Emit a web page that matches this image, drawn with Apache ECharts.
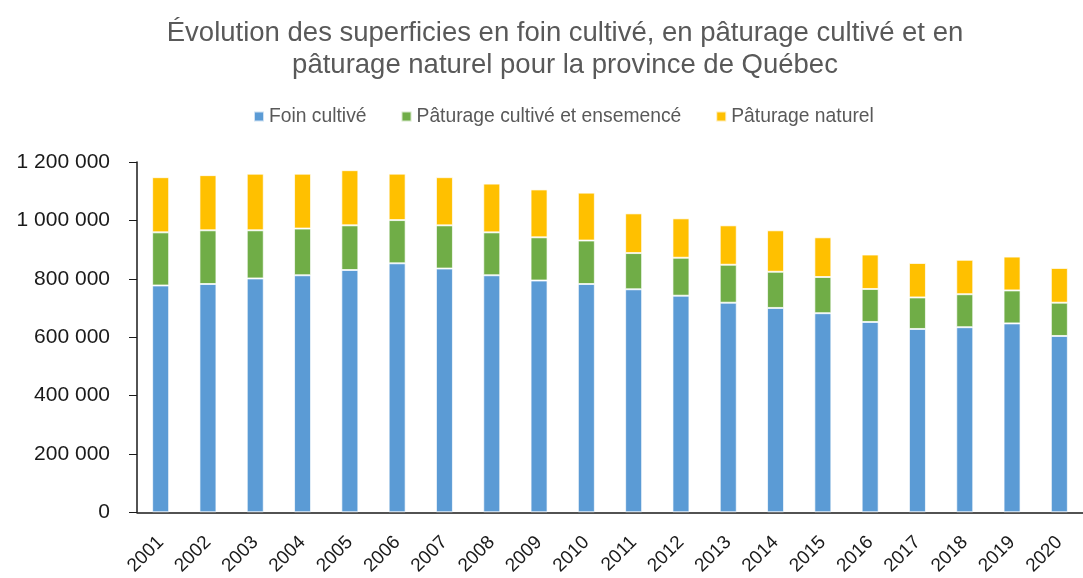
<!DOCTYPE html>
<html>
<head>
<meta charset="utf-8">
<script src="https://cdn.jsdelivr.net/npm/echarts@6/dist/echarts.min.js"></script>
<style>
html, body { margin: 0; padding: 0; background: #fff; }
#chart { width: 1083px; height: 578px; }
</style>
</head>
<body>
<div id="chart"></div>
<script>
// data (hectares)
var years = ['2001', '2002', '2003', '2004', '2005', '2006', '2007', '2008', '2009', '2010',
  '2011', '2012', '2013', '2014', '2015', '2016', '2017', '2018', '2019', '2020']
var foinCultive = [777000, 782000, 801000, 812000, 830000, 853000, 835000, 812000, 794000, 782000,
  764000, 742000, 718000, 700000, 682000, 652000, 628000, 634000, 647000, 604000]
var paturageCultive = [182000, 184000, 165000, 160000, 153000, 148000, 148000, 147000, 148000, 149000,
  124000, 130000, 130000, 124000, 124000, 113000, 108000, 113000, 113000, 114000]
var paturageNaturel = [189000, 189000, 194000, 188000, 189000, 159000, 165000, 167000, 164000, 164000,
  136000, 135000, 135000, 142000, 136000, 118000, 118000, 118000, 116000, 119000]
var seriesNames = ['Foin cultivé', 'Pâturage cultivé et ensemencé', 'Pâturage naturel']
var colors = ['#5B9BD5', '#70AD47', '#FFC000']

var font = 'Liberation Sans, Arial, sans-serif'

function spaced(v) {
  return String(v).replace(/\B(?=(\d{3})+(?!\d))/g, ' ')
}

function makeBar(name, values, color) {
  return {
    name: name,
    type: 'bar',
    stack: 'total',
    barWidth: 17,
    data: values,
    itemStyle: { color: color, borderColor: 'rgba(255,255,255,0.7)', borderWidth: 1 }
  }
}

var chart = echarts.init(document.getElementById('chart'))
chart.setOption({
  animation: false,
  color: colors,
  title: {
    text: 'Évolution des superficies en foin cultivé, en pâturage cultivé et en\npâturage naturel pour la province de Québec',
    // the original title is centred a bit right of the page middle
    left: 560,
    textAlign: 'center',
    top: 12,
    textStyle: { fontFamily: font, fontSize: 27.5, fontWeight: 'normal', color: '#595959', lineHeight: 32 }
  },
  legend: {
    top: 102,
    left: 248,
    itemWidth: 10,
    itemHeight: 10,
    itemGap: 34,
    icon: 'rect',
    textStyle: { fontFamily: font, fontSize: 19.3, color: '#595959' },
    data: seriesNames
  },
  grid: { left: 137, top: 162, width: 957, height: 352, containLabel: false },
  xAxis: {
    type: 'category',
    data: years,
    axisLine: { lineStyle: { color: '#1a1a1a', width: 1.5 } },
    axisTick: { show: false },
    axisLabel: { rotate: 45, fontFamily: font, fontSize: 19, color: '#1a1a1a', margin: 27, interval: 0 }
  },
  yAxis: {
    type: 'value',
    min: 0,
    max: 1200000,
    interval: 200000,
    splitLine: { show: false },
    axisLine: { show: true, lineStyle: { color: '#1a1a1a', width: 1.5 } },
    axisTick: { show: true, length: 8, lineStyle: { color: '#1a1a1a' } },
    axisLabel: { fontFamily: font, fontSize: 21, color: '#1a1a1a', margin: 27, formatter: spaced }
  },
  series: [
    makeBar(seriesNames[0], foinCultive, colors[0]),
    makeBar(seriesNames[1], paturageCultive, colors[1]),
    makeBar(seriesNames[2], paturageNaturel, colors[2])
  ]
})
</script>
</body>
</html>
